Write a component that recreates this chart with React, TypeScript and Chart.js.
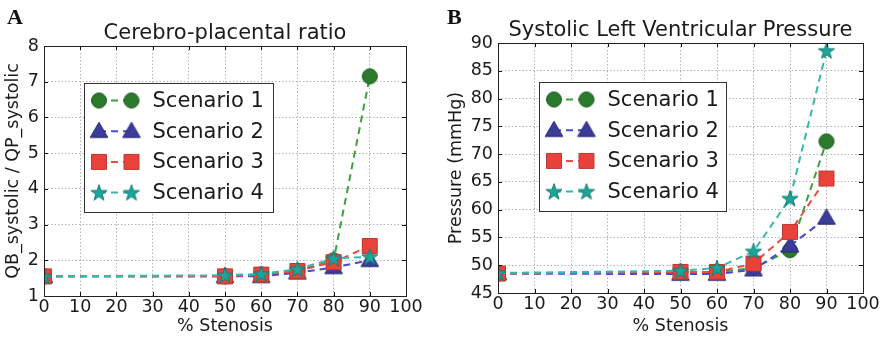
import React, { useEffect, useRef } from 'react';
import { Chart, registerables } from 'chart.js';

Chart.register(...registerables);

// ---------- data ----------
const stenosis = [0, 50, 60, 70, 80, 90];
const seriesNames = ['Scenario 1', 'Scenario 2', 'Scenario 3', 'Scenario 4'];

const cprScenario1 = [1.55, 1.55, 1.6, 1.7, 2.0, 7.15];
const cprScenario2 = [1.55, 1.55, 1.55, 1.65, 1.8, 2.0];
const cprScenario3 = [1.55, 1.55, 1.6, 1.7, 1.95, 2.4];
const cprScenario4 = [1.55, 1.58, 1.62, 1.75, 2.05, 2.1];

const lvpScenario1 = [48.5, 48.8, 48.8, 49.5, 52.7, 72.3];
const lvpScenario2 = [48.5, 48.4, 48.4, 49.2, 53.5, 58.5];
const lvpScenario3 = [48.5, 48.8, 48.8, 50.3, 56.0, 65.6];
const lvpScenario4 = [48.6, 49.0, 49.5, 52.5, 62.0, 88.6];

const xTickValues = [0, 10, 20, 30, 40, 50, 60, 70, 80, 90, 100];
const cprTickValues = [1, 2, 3, 4, 5, 6, 7, 8];
const lvpTickValues = [45, 50, 55, 60, 65, 70, 75, 80, 85, 90];

// ---------- styles ----------
const FONT = 'DejaVu Sans';
const TEXT = '#1a1a1a';
const lineColors = ['#3f9f3f', '#4a4acc', '#ee4c44', '#38b7ac'];
const markerFills = ['#2b7b2d', '#3b3b9a', '#e9423a', '#1ca69b'];
const markerEdges = ['#1f5a21', '#2a2a78', '#b83a34', '#157b73'];
const markerKinds = ['circle', 'triangle', 'square', 'star'];

function makeMarker(kind: string, fill: string, edge: string): HTMLCanvasElement {
  const S = 22;
  const c = document.createElement('canvas');
  c.width = S;
  c.height = S;
  const ctx = c.getContext('2d')!;
  const cx = S / 2;
  const cy = S / 2;
  ctx.fillStyle = fill;
  ctx.strokeStyle = edge;
  ctx.lineWidth = 1;
  ctx.beginPath();
  if (kind === 'circle') {
    ctx.arc(cx, cy, 7.5, 0, Math.PI * 2);
  } else if (kind === 'square') {
    ctx.rect(cx - 7.5, cy - 7.5, 15, 15);
  } else if (kind === 'triangle') {
    ctx.moveTo(cx, cy - 9);
    ctx.lineTo(cx + 8.8, cy + 6.2);
    ctx.lineTo(cx - 8.8, cy + 6.2);
    ctx.closePath();
  } else {
    const R = 8.5;
    const r = R * 0.39;
    for (let k = 0; k < 10; k++) {
      const rad = k % 2 === 0 ? R : r;
      const a = -Math.PI / 2 + (k * Math.PI) / 5;
      const px = cx + rad * Math.cos(a);
      const py = cy + 0.6 + rad * Math.sin(a);
      if (k === 0) ctx.moveTo(px, py);
      else ctx.lineTo(px, py);
    }
    ctx.closePath();
  }
  ctx.fill();
  ctx.stroke();
  return c;
}

type PanelCfg = {
  title: string;
  yTitle: string;
  series: number[][];
  yMin: number;
  yMax: number;
  yTicks: number[];
  padRight: number;
  padTop: number;
  yWidth: number;
  xHeight: number;
  yTitlePad: number;
  legendDx: number;
  legendDy: number;
  legendW: number;
};

function buildChart(canvas: HTMLCanvasElement, cfg: PanelCfg) {
  const markers = markerKinds.map((k, i) => makeMarker(k, markerFills[i], markerEdges[i]));

  const datasets = cfg.series.map((vals, i) => ({
    label: seriesNames[i],
    data: stenosis.map((x, j) => ({ x, y: vals[j] })),
    borderColor: lineColors[i],
    backgroundColor: markerFills[i],
    borderWidth: 2,
    borderDash: [7, 5],
    pointStyle: markers[i] as any,
    pointRadius: 8,
    pointHoverRadius: 8,
    fill: false,
    tension: 0,
    order: 3 - i,
    clip: 0,
  }));

  const frame = {
    id: 'frameTicks',
    afterDatasetsDraw(chart: any) {
      const { ctx, chartArea: a, scales } = chart;
      ctx.save();
      ctx.strokeStyle = '#111';
      ctx.lineWidth = 1;
      ctx.beginPath();
      const L = 4;
      for (const v of xTickValues) {
        const px = Math.round(scales.x.getPixelForValue(v)) + 0.5;
        ctx.moveTo(px, a.bottom);
        ctx.lineTo(px, a.bottom - L);
        ctx.moveTo(px, a.top);
        ctx.lineTo(px, a.top + L);
      }
      for (const v of cfg.yTicks) {
        const py = Math.round(scales.y.getPixelForValue(v)) + 0.5;
        ctx.moveTo(a.left, py);
        ctx.lineTo(a.left + L, py);
        ctx.moveTo(a.right, py);
        ctx.lineTo(a.right - L, py);
      }
      ctx.stroke();
      ctx.strokeStyle = '#222';
      ctx.strokeRect(
        Math.round(a.left) + 0.5,
        Math.round(a.top) + 0.5,
        Math.round(a.right - a.left),
        Math.round(a.bottom - a.top)
      );
      ctx.restore();
    },
  };

  const legend = {
    id: 'inlineLegend',
    afterDraw(chart: any) {
      const { ctx, chartArea: a } = chart;
      const bx = Math.round(a.left + cfg.legendDx) + 0.5;
      const by = Math.round(a.top + cfg.legendDy) + 0.5;
      const bh = 129;
      ctx.save();
      ctx.fillStyle = '#ffffff';
      ctx.fillRect(bx, by, cfg.legendW, bh);
      ctx.strokeStyle = '#333';
      ctx.lineWidth = 1;
      ctx.strokeRect(bx, by, cfg.legendW, bh);
      chart.data.datasets.forEach((ds: any, i: number) => {
        const ry = by + 17 + i * 30.7;
        const m1 = bx + 14.5;
        const m2 = bx + 47;
        ctx.save();
        ctx.strokeStyle = ds.borderColor;
        ctx.lineWidth = 2;
        ctx.setLineDash([7, 5]);
        ctx.lineDashOffset = -12;
        ctx.beginPath();
        ctx.moveTo(m1, ry);
        ctx.lineTo(m2, ry);
        ctx.stroke();
        ctx.restore();
        const img = ds.pointStyle as HTMLCanvasElement;
        ctx.drawImage(img, m1 - img.width / 2, ry - img.height / 2);
        ctx.drawImage(img, m2 - img.width / 2, ry - img.height / 2);
        ctx.fillStyle = TEXT;
        ctx.font = `21px "${FONT}"`;
        ctx.textBaseline = 'middle';
        ctx.textAlign = 'left';
        ctx.fillText(ds.label, bx + 68, ry + 1);
      });
      ctx.restore();
    },
  };

  return new Chart(canvas, {
    type: 'line',
    data: { datasets: datasets as any },
    plugins: [frame, legend],
    options: {
      animation: false,
      responsive: false,
      devicePixelRatio: 1,
      events: [],
      layout: { padding: { left: 0, right: cfg.padRight, top: cfg.padTop, bottom: 0 } },
      plugins: {
        legend: { display: false },
        tooltip: { enabled: false },
        title: {
          display: true,
          text: cfg.title,
          fullSize: false,
          color: TEXT,
          font: { family: FONT, size: 21, weight: 'normal', lineHeight: 1.2 },
          padding: { top: 0, bottom: 0 },
        },
      },
      scales: {
        x: {
          type: 'linear',
          min: 0,
          max: 100,
          afterFit: (s: any) => {
            s.height = cfg.xHeight;
          },
          afterBuildTicks: (s: any) => {
            s.ticks = xTickValues.map((v) => ({ value: v }));
          },
          ticks: {
            color: TEXT,
            font: { family: FONT, size: 17.5 },
            padding: 1,
            maxRotation: 0,
            autoSkip: false,
          },
          grid: { color: '#b4b4b4', lineWidth: 1, drawTicks: false },
          border: { display: false, dash: [1.5, 2] },
          title: {
            display: true,
            text: '% Stenosis',
            color: TEXT,
            font: { family: FONT, size: 17.5, lineHeight: 1.2 },
            padding: { top: 0, bottom: 3.5 },
          },
        },
        y: {
          type: 'linear',
          min: cfg.yMin,
          max: cfg.yMax,
          afterFit: (s: any) => {
            s.width = cfg.yWidth;
          },
          afterBuildTicks: (s: any) => {
            s.ticks = cfg.yTicks.map((v) => ({ value: v }));
          },
          ticks: {
            color: TEXT,
            font: { family: FONT, size: 17.5 },
            padding: 5,
            autoSkip: false,
          },
          grid: { color: '#b4b4b4', lineWidth: 1, drawTicks: false },
          border: { display: false, dash: [1.5, 2] },
          title: {
            display: true,
            text: cfg.yTitle,
            color: TEXT,
            font: { family: FONT, size: 17.5, lineHeight: 1.2 },
            padding: { top: cfg.yTitlePad, bottom: 0 },
          },
        },
      },
    } as any,
  });
}

const panelA: PanelCfg = {
  title: 'Cerebro-placental ratio',
  yTitle: 'QB_systolic / QP_systolic',
  series: [cprScenario1, cprScenario2, cprScenario3, cprScenario4],
  yMin: 1,
  yMax: 8,
  yTicks: cprTickValues,
  padRight: 34,
  padTop: 20.8,
  yWidth: 44,
  xHeight: 44,
  yTitlePad: 2.5,
  legendDx: 40,
  legendDy: 37,
  legendW: 189,
};

const panelB: PanelCfg = {
  title: 'Systolic Left Ventricular Pressure',
  yTitle: 'Pressure (mmHg)',
  series: [lvpScenario1, lvpScenario2, lvpScenario3, lvpScenario4],
  yMin: 45,
  yMax: 90,
  yTicks: lvpTickValues,
  padRight: 19,
  padTop: 17.8,
  yWidth: 58,
  xHeight: 47,
  yTitlePad: 5.5,
  legendDx: 41,
  legendDy: 39,
  legendW: 187,
};

function Panel({ cfg, width }: { cfg: PanelCfg; width: number }) {
  const ref = useRef<HTMLCanvasElement | null>(null);
  useEffect(() => {
    if (!ref.current) return;
    const chart = buildChart(ref.current, cfg);
    return () => chart.destroy();
  }, [cfg]);
  return <canvas ref={ref} width={width} height={340} style={{ display: 'block', width, height: 340 }} />;
}

const labelStyle: React.CSSProperties = {
  position: 'absolute',
  fontFamily: '"Liberation Serif", serif',
  fontWeight: 'bold',
  fontSize: 22,
  lineHeight: '22px',
  color: '#111',
};

export default function App() {
  return (
    <div style={{ position: 'absolute', left: 0, top: 0, width: 882, height: 340, background: '#fff', overflow: 'hidden' }}>
      <div style={{ position: 'absolute', left: 0, top: 0, width: 440, height: 340 }}>
        <Panel cfg={panelA} width={440} />
      </div>
      <div style={{ position: 'absolute', left: 440, top: 0, width: 442, height: 340 }}>
        <Panel cfg={panelB} width={442} />
      </div>
      <div style={{ ...labelStyle, left: 7, top: 5.5 }}>A</div>
      <div style={{ ...labelStyle, left: 447, top: 5.5 }}>B</div>
    </div>
  );
}
